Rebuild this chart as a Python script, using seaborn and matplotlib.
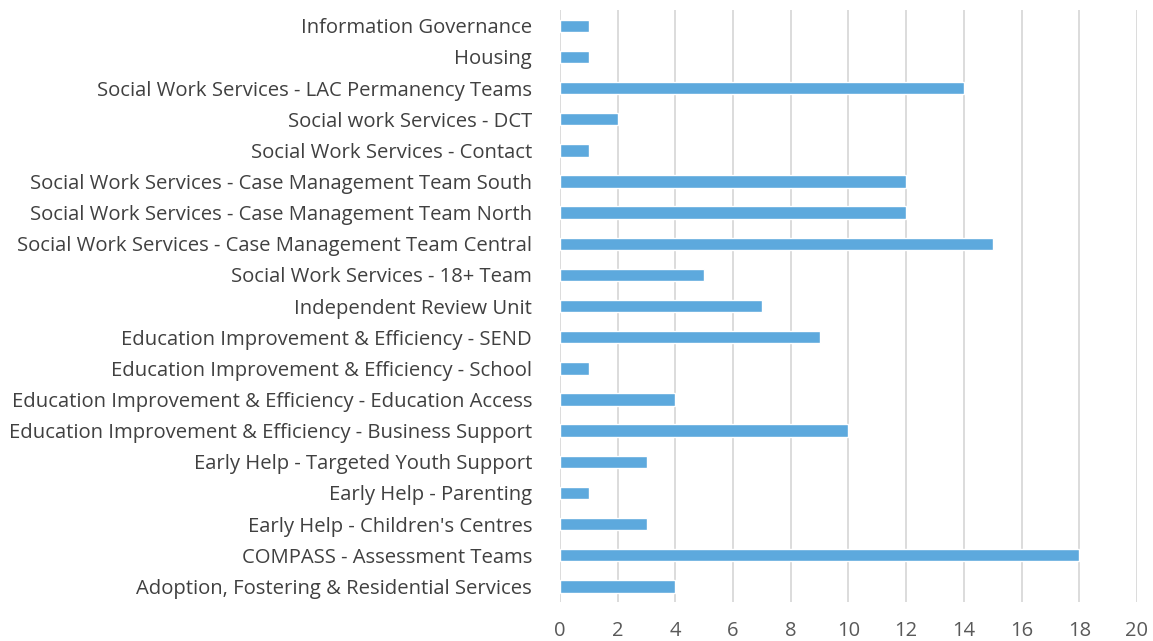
import matplotlib
matplotlib.use('Agg')
import matplotlib.pyplot as plt
import seaborn as sns
import pandas as pd

# 부서별 값 (위에서 아래 순서)
categories = [
    'Information Governance',
    'Housing',
    'Social Work Services - LAC Permanency Teams',
    'Social work Services - DCT',
    'Social Work Services - Contact',
    'Social Work Services - Case Management Team South',
    'Social Work Services - Case Management Team North',
    'Social Work Services - Case Management Team Central',
    'Social Work Services - 18+ Team',
    'Independent Review Unit',
    'Education Improvement & Efficiency - SEND',
    'Education Improvement & Efficiency - School',
    'Education Improvement & Efficiency - Education Access',
    'Education Improvement & Efficiency - Business Support',
    'Early Help - Targeted Youth Support',
    'Early Help - Parenting',
    "Early Help - Children's Centres",
    'COMPASS - Assessment Teams',
    'Adoption, Fostering & Residential Services',
]
values = [1, 1, 14, 2, 1, 12, 12, 15, 5, 7, 9, 1, 4, 10, 3, 1, 3, 18, 4]
x_ticks = list(range(0, 21, 2))

sns.set_theme(style='white')
plt.rcParams['font.family'] = ['Open Sans', 'DejaVu Sans']

df = pd.DataFrame({'category': categories, 'value': values})

fig = plt.figure(figsize=(11.53, 6.41), dpi=100)
ax = fig.add_axes([0.4857, 0.061, 0.5004, 0.923])

sns.barplot(data=df, x='value', y='category', orient='h', color='#5da9dd',
            saturation=1, width=0.4, ax=ax)

ax.set_xlim(0, 20)
ax.set_xticks(x_ticks)
ax.grid(axis='x', color='#d9d9d9', linewidth=1.3)
ax.set_axisbelow(True)
for s in ax.spines.values():
    s.set_visible(False)
ax.set_xlabel('')
ax.set_ylabel('')
ax.tick_params(axis='x', length=0, pad=14, labelsize=14.5, labelcolor='#595959')
ax.tick_params(axis='y', length=0, pad=20, labelsize=14.6, labelcolor='#404040')

plt.savefig('out.png', dpi=100)
